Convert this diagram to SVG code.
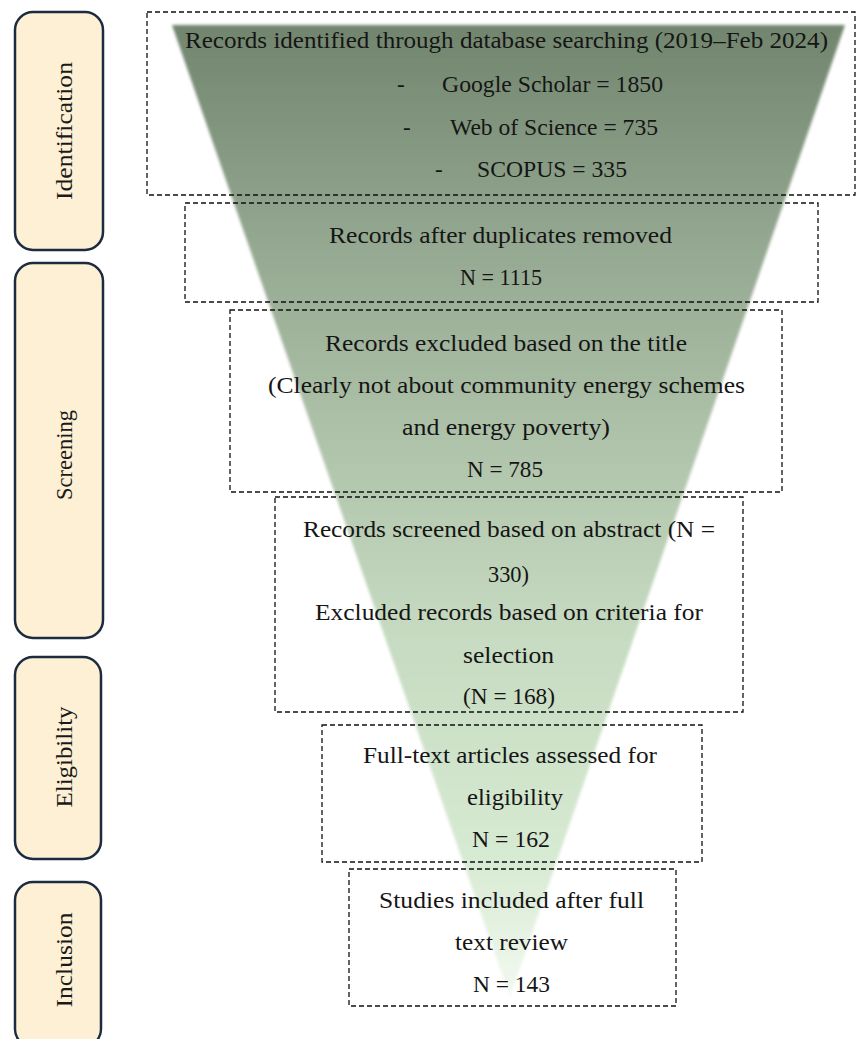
<svg xmlns="http://www.w3.org/2000/svg" width="857" height="1039" viewBox="0 0 857 1039">
<defs>
<linearGradient id="funnelGrad" x1="0" y1="25" x2="0" y2="997" gradientUnits="userSpaceOnUse">
<stop offset="0" stop-color="#71856e"/>
<stop offset="0.23" stop-color="#95a891"/>
<stop offset="0.44" stop-color="#b0c4ab"/>
<stop offset="0.63" stop-color="#c6dbc1"/>
<stop offset="0.85" stop-color="#d6e9d1"/>
<stop offset="1" stop-color="#f2f9f0"/>
</linearGradient>
<filter id="soft" x="-5%" y="-5%" width="110%" height="110%">
<feGaussianBlur stdDeviation="1.6"/>
</filter>
<style>
.stage{fill:#fdf0d4;stroke:#1c2b3f;stroke-width:2.5}
.stxt{font-family:"Liberation Serif","DejaVu Serif",serif;font-size:23px;fill:#1a1a1a;text-anchor:middle}
.box{fill:none;stroke:#111;stroke-width:1.3;stroke-dasharray:5 3}
.t{font-family:"Liberation Serif","DejaVu Serif",serif;font-size:23px;fill:#151515;text-anchor:middle}
.ts{font-family:"Liberation Serif","DejaVu Serif",serif;font-size:23px;fill:#151515}
</style>
</defs>
<rect width="857" height="1039" fill="#ffffff"/>

<g id="funnel">
<polygon points="172,25 845,25 510,997" fill="url(#funnelGrad)" filter="url(#soft)"/>
</g>

<g id="stage-identification">
<rect class="stage" x="15" y="12" width="88" height="238" rx="18"/>
<text class="stxt" transform="translate(72,131) rotate(-90)" textLength="138" lengthAdjust="spacingAndGlyphs">Identification</text>
</g>
<g id="stage-screening">
<rect class="stage" x="15" y="263" width="88" height="375" rx="18"/>
<text class="stxt" transform="translate(72,455) rotate(-90)" textLength="90" lengthAdjust="spacingAndGlyphs">Screening</text>
</g>
<g id="stage-eligibility">
<rect class="stage" x="15" y="657" width="86" height="202" rx="18"/>
<text class="stxt" transform="translate(72,757) rotate(-90)" textLength="101" lengthAdjust="spacingAndGlyphs">Eligibility</text>
</g>
<g id="stage-inclusion">
<rect class="stage" x="15" y="882" width="86" height="165" rx="18"/>
<text class="stxt" transform="translate(72,960) rotate(-90)" textLength="95" lengthAdjust="spacingAndGlyphs">Inclusion</text>
</g>

<g id="box-identified">
<rect class="box" x="147" y="12" width="708" height="183"/>
<text class="t" x="506.5" y="48" textLength="643" lengthAdjust="spacingAndGlyphs">Records identified through database searching (2019–Feb 2024)</text>
<text class="ts" x="397" y="92">-</text>
<text class="ts" x="442" y="92" textLength="221" lengthAdjust="spacingAndGlyphs">Google Scholar = 1850</text>
<text class="ts" x="403" y="135">-</text>
<text class="ts" x="450" y="135" textLength="208" lengthAdjust="spacingAndGlyphs">Web of Science = 735</text>
<text class="ts" x="435" y="177">-</text>
<text class="ts" x="477" y="177" textLength="150" lengthAdjust="spacingAndGlyphs">SCOPUS = 335</text>
</g>

<g id="box-duplicates">
<rect class="box" x="185" y="203" width="633" height="99"/>
<text class="t" x="500.5" y="243" textLength="343" lengthAdjust="spacingAndGlyphs">Records after duplicates removed</text>
<text class="t" x="501" y="285" textLength="82" lengthAdjust="spacingAndGlyphs">N = 1115</text>
</g>

<g id="box-title">
<rect class="box" x="230" y="310" width="552" height="182"/>
<text class="t" x="506" y="351" textLength="362" lengthAdjust="spacingAndGlyphs">Records excluded based on the title</text>
<text class="t" x="506.5" y="393" textLength="477" lengthAdjust="spacingAndGlyphs">(Clearly not about community energy schemes</text>
<text class="t" x="506" y="435" textLength="208" lengthAdjust="spacingAndGlyphs">and energy poverty)</text>
<text class="t" x="505" y="477" textLength="76" lengthAdjust="spacingAndGlyphs">N = 785</text>
</g>

<g id="box-abstract">
<rect class="box" x="275" y="497" width="468" height="215"/>
<text class="t" x="509" y="537" textLength="412" lengthAdjust="spacingAndGlyphs">Records screened based on abstract (N =</text>
<text class="t" x="508.5" y="582" textLength="41" lengthAdjust="spacingAndGlyphs">330)</text>
<text class="t" x="509" y="620" textLength="388" lengthAdjust="spacingAndGlyphs">Excluded records based on criteria for</text>
<text class="t" x="508.5" y="663" textLength="91" lengthAdjust="spacingAndGlyphs">selection</text>
<text class="t" x="509" y="704" textLength="92" lengthAdjust="spacingAndGlyphs">(N = 168)</text>
</g>

<g id="box-fulltext">
<rect class="box" x="322" y="725" width="380" height="137"/>
<text class="t" x="510" y="763" textLength="294" lengthAdjust="spacingAndGlyphs">Full-text articles assessed for</text>
<text class="t" x="515" y="805" textLength="96" lengthAdjust="spacingAndGlyphs">eligibility</text>
<text class="t" x="511" y="847" textLength="78" lengthAdjust="spacingAndGlyphs">N = 162</text>
</g>

<g id="box-included">
<rect class="box" x="349" y="869" width="327" height="137"/>
<text class="t" x="511.5" y="908" textLength="265" lengthAdjust="spacingAndGlyphs">Studies included after full</text>
<text class="t" x="511.5" y="950" textLength="113" lengthAdjust="spacingAndGlyphs">text review</text>
<text class="t" x="511.5" y="992" textLength="77" lengthAdjust="spacingAndGlyphs">N = 143</text>
</g>

<g id="connectors"></g>
</svg>
